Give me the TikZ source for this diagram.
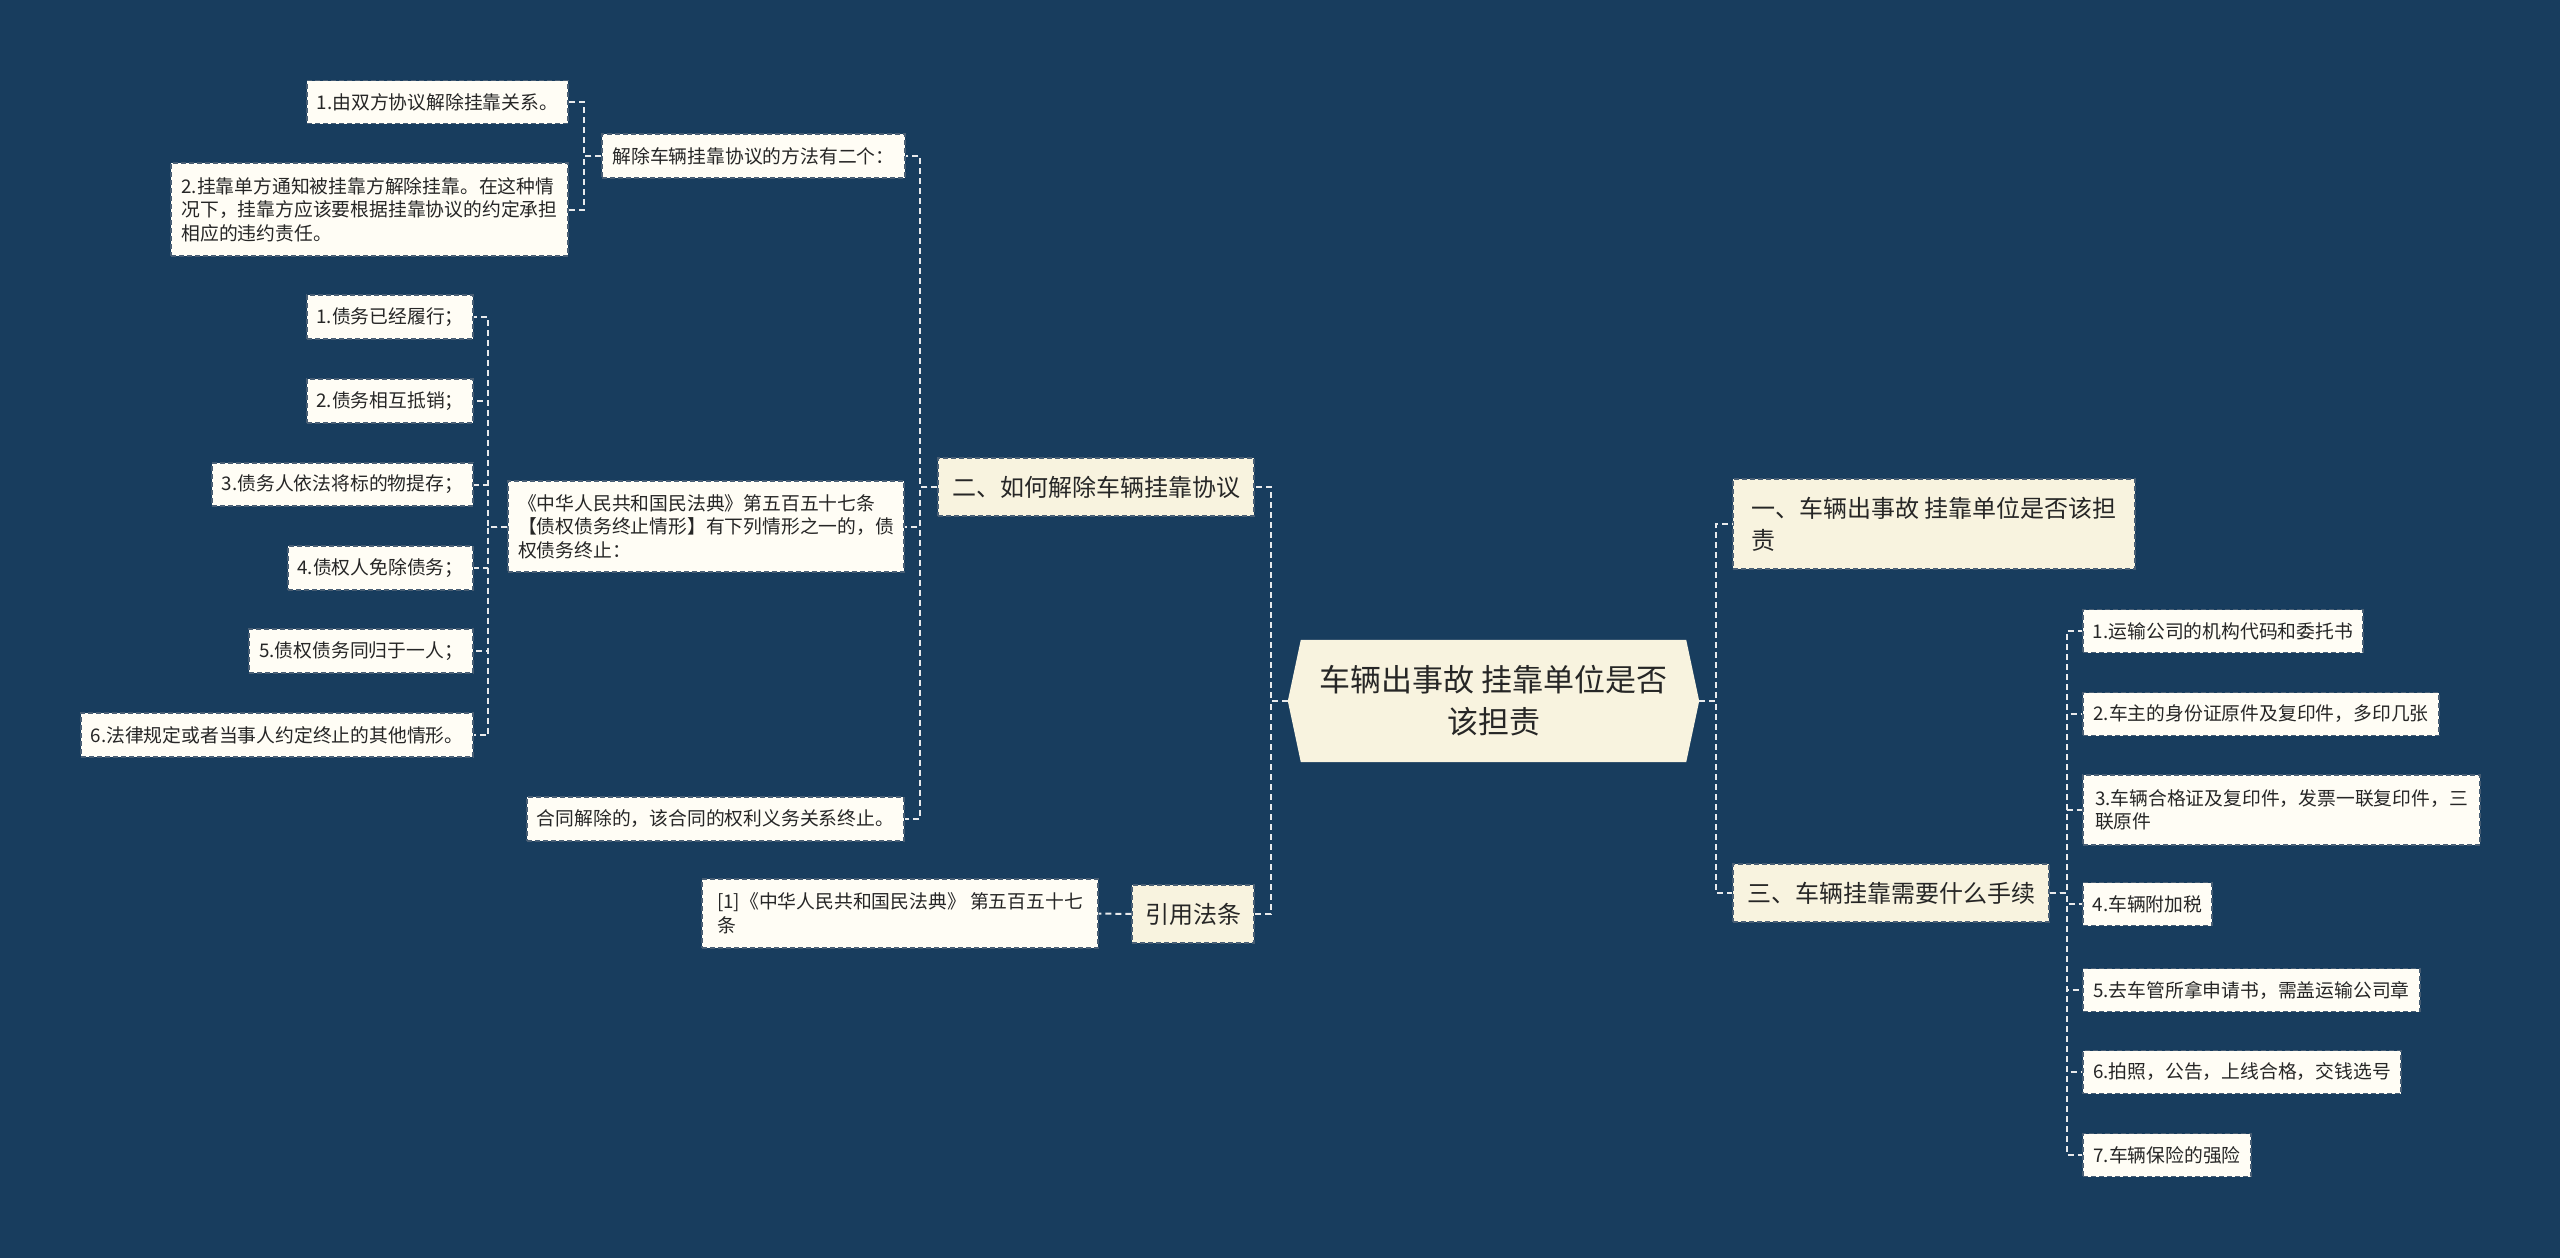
\documentclass[tikz,border=0pt]{standalone}
\usepackage{fontspec}
\setmainfont{Noto Sans CJK SC}
\usetikzlibrary{backgrounds,calc}
\definecolor{bgc}{RGB}{24,61,94}
\definecolor{leafc}{RGB}{255,253,245}
\definecolor{midc}{RGB}{248,243,223}
\definecolor{rootc}{RGB}{248,243,223}
\definecolor{edgec}{RGB}{72,94,116}
\definecolor{connc}{RGB}{232,234,236}
\definecolor{txtc}{RGB}{38,38,38}
\tikzset{
  leafbox/.style={draw=edgec, fill=leafc, dash pattern=on 5pt off 3pt, line width=1.3pt,
    text=txtc, font=\fontsize{18.8}{23.5}\selectfont, align=left, inner sep=0pt},
  midbox/.style={draw=edgec, fill=midc, dash pattern=on 5pt off 3pt, line width=1.3pt,
    text=txtc, font=\fontsize{24}{32}\selectfont, align=left, inner sep=0pt},
  rootbox/.style={text=txtc, font=\fontsize{31}{42}\selectfont, align=center, inner sep=0pt},
  link/.style={draw=connc, line width=2pt, dash pattern=on 6pt off 4pt},
}
\begin{document}
\begin{tikzpicture}[x=1pt,y=-1pt]
\useasboundingbox (0,0) rectangle (2560,1258);

% root
\node[rootbox, minimum width=411, minimum height=122] (root) at (1493.5,701) {车辆出事故 挂靠单位是否\\该担责};
\begin{pgfonlayer}{background}
  \fill[bgc] (0,0) rectangle (2560,1258);
  \fill[rootc] (root.west) -- ($(root.north west)+(13,0)$) -- ($(root.north east)+(-13,0)$)
    -- (root.east) -- ($(root.south east)+(-13,0)$) -- ($(root.south west)+(13,0)$) -- cycle;
\end{pgfonlayer}

% right side
\node[midbox, minimum width=402, minimum height=90] (r1) at (1934,524) {一、车辆出事故 挂靠单位是否该担\\责};
\node[midbox, minimum width=316, minimum height=58] (r3) at (1891,893) {三、车辆挂靠需要什么手续};

\node[leafbox, minimum width=280, minimum height=43] (c1) at (2223,631) {1.运输公司的机构代码和委托书};
\node[leafbox, minimum width=356, minimum height=43] (c2) at (2261,714) {2.车主的身份证原件及复印件，多印几张};
\node[leafbox, minimum width=397, minimum height=70] (c3) at (2281.5,810) {3.车辆合格证及复印件，发票一联复印件，三\\联原件};
\node[leafbox, minimum width=129, minimum height=43] (c4) at (2147.5,904) {4.车辆附加税};
\node[leafbox, minimum width=337, minimum height=43] (c5) at (2251.5,990) {5.去车管所拿申请书，需盖运输公司章};
\node[leafbox, minimum width=318, minimum height=43] (c6) at (2242,1072) {6.拍照，公告，上线合格，交钱选号};
\node[leafbox, minimum width=168, minimum height=43] (c7) at (2167,1155) {7.车辆保险的强险};

% left side
\node[midbox, minimum width=316, minimum height=58] (l2) at (1096,487) {二、如何解除车辆挂靠协议};
\node[midbox, minimum width=122, minimum height=58] (lf) at (1193,914) {引用法条};

\node[leafbox, minimum width=396, minimum height=69] (le) at (900,913.5) {[1]《中华人民共和国民法典》 第五百五十七\\条};

\node[leafbox, minimum width=303, minimum height=44] (la) at (753.5,156) {解除车辆挂靠协议的方法有二个：};
\node[leafbox, minimum width=396, minimum height=91] (lb) at (706,526.5) {《中华人民共和国民法典》第五百五十七条\\【债权债务终止情形】有下列情形之一的，债\\权债务终止：};
\node[leafbox, minimum width=377, minimum height=44] (ld) at (715.5,819) {合同解除的，该合同的权利义务关系终止。};

\node[leafbox, minimum width=261, minimum height=43] (a1) at (437.5,102) {1.由双方协议解除挂靠关系。};
\node[leafbox, minimum width=397, minimum height=93] (a2) at (369.5,209.5) {2.挂靠单方通知被挂靠方解除挂靠。在这种情\\况下，挂靠方应该要根据挂靠协议的约定承担\\相应的违约责任。};

\node[leafbox, minimum width=166, minimum height=44] (b1) at (390,317) {1.债务已经履行；};
\node[leafbox, minimum width=166, minimum height=44] (b2) at (390,401) {2.债务相互抵销；};
\node[leafbox, minimum width=261, minimum height=43] (b3) at (342.5,484.5) {3.债务人依法将标的物提存；};
\node[leafbox, minimum width=185, minimum height=44] (b4) at (380.5,568) {4.债权人免除债务；};
\node[leafbox, minimum width=224, minimum height=44] (b5) at (361,651) {5.债权债务同归于一人；};
\node[leafbox, minimum width=392, minimum height=44] (b6) at (277,735) {6.法律规定或者当事人约定终止的其他情形。};

% connectors
\foreach \t in {r1,r3} \draw[link] (root.east) -- ++(17,0) |- (\t.west);
\foreach \t in {l2,lf} \draw[link] (root.west) -- ++(-17,0) |- (\t.east);
\foreach \t in {c1,c2,c3,c4,c5,c6,c7} \draw[link] (r3.east) -- ++(17,0) |- (\t.west);
\foreach \t in {la,lb,ld} \draw[link] (l2.west) -- ++(-17,0) |- (\t.east);
\draw[link] (lf.west) -- (le.east);
\foreach \t in {a1,a2} \draw[link] (la.west) -- ++(-17,0) |- (\t.east);
\foreach \t in {b1,b2,b3,b4,b5,b6} \draw[link] (lb.west) -- ++(-19,0) |- (\t.east);
\end{tikzpicture}
\end{document}
